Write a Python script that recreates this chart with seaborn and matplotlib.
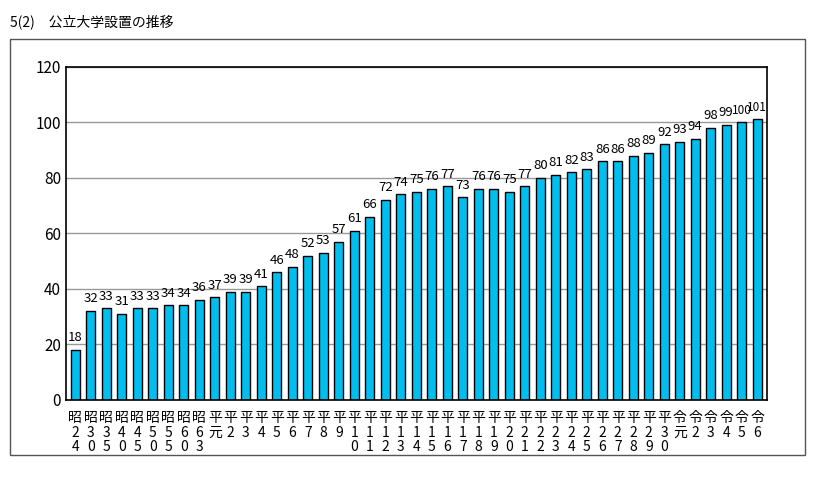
import matplotlib
matplotlib.use("Agg")
import matplotlib.pyplot as plt
import seaborn as sns
import pandas as pd
from matplotlib.patches import Rectangle

plt.rcParams["font.family"] = ["Noto Sans CJK JP", "DejaVu Sans"]

eras = ["昭"] * 9 + ["平"] * 30 + ["令"] * 6
years = ["24", "30", "35", "40", "45", "50", "55", "60", "63",
         "元"] + [str(i) for i in range(2, 31)] + ["元", "2", "3", "4", "5", "6"]
values = [18, 32, 33, 31, 33, 33, 34, 34, 36,
          37, 39, 39, 41, 46, 48, 52, 53, 57, 61,
          66, 72, 74, 75, 76, 77, 73, 76, 76, 75,
          77, 80, 81, 82, 83, 86, 86, 88, 89, 92,
          93, 94, 98, 99, 100, 101]

labels = [e + "\n" + "\n".join(list(y)) for e, y in zip(eras, years)]
df = pd.DataFrame({"label": labels, "value": values})

fig = plt.figure(figsize=(8.26, 4.83), dpi=100)
fig.patches.append(Rectangle((0.012, 0.058), 0.963, 0.862, transform=fig.transFigure,
                             fill=False, edgecolor="#555555", linewidth=1.0))
ax = fig.add_axes([0.08, 0.172, 0.848, 0.69])
sns.barplot(data=df, x="label", y="value", color="#00BFEF", saturation=1,
            edgecolor="black", linewidth=1.0, width=0.58, ax=ax)
ax.set_ylim(0, 120)
ax.set_yticks(range(0, 121, 20))
ax.yaxis.grid(True, color="#999999", linewidth=1)
ax.set_axisbelow(True)
ax.set_xlabel("")
ax.set_ylabel("")
ax.tick_params(axis="x", length=0, labelsize=10, pad=8)
ax.tick_params(axis="y", length=0, labelsize=11)
for lab in ax.get_xticklabels():
    lab.set_verticalalignment("top")
    lab.set_linespacing(1.05)
for s in ax.spines.values():
    s.set_color("black")
    s.set_linewidth(1.2)
for i, v in enumerate(values):
    ax.text(i, v + 2, str(v), ha="center", va="bottom",
            fontsize=8.5 if v >= 100 else 9.5)
ax.set_xlim(-0.6, len(values) - 0.4)
fig.text(0.012, 0.955, "5(2)　公立大学設置の推移", fontsize=10, va="center")
fig.savefig("out.png", dpi=100)
